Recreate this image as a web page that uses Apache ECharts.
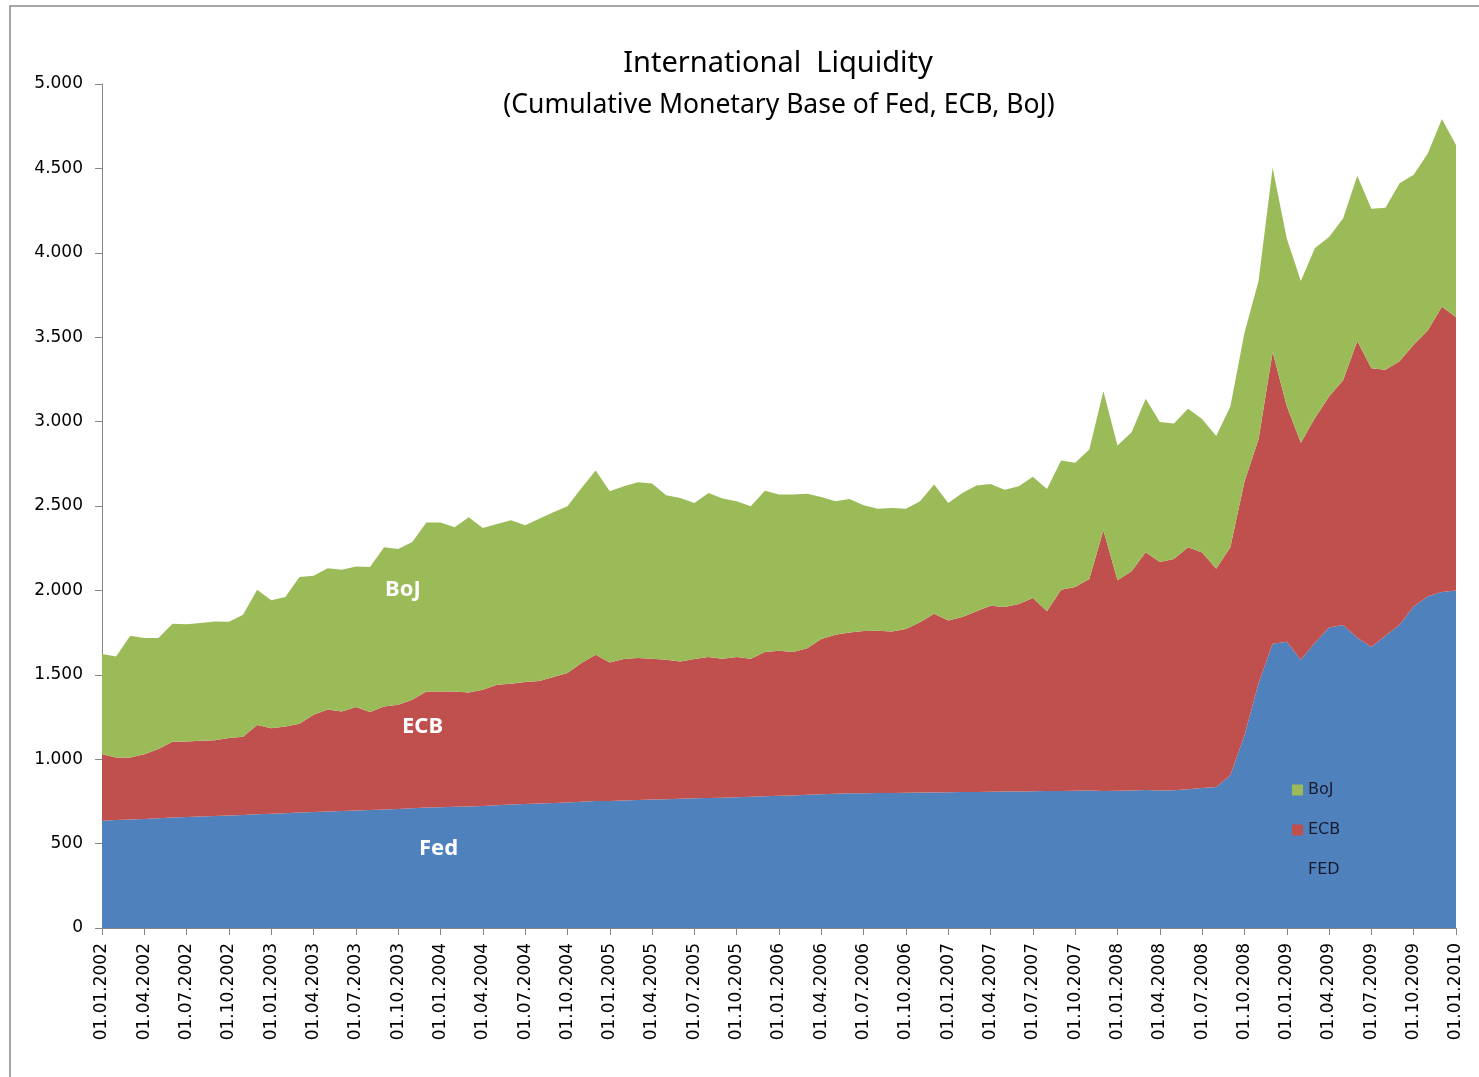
<!DOCTYPE html>
<html>
<head>
<meta charset="utf-8">
<title>International Liquidity</title>
<script src="https://cdn.jsdelivr.net/npm/echarts@6/dist/echarts.min.js"></script>
<style>
  html, body { margin: 0; padding: 0; background: #fff; }
  #chart { width: 1479px; height: 1077px; }
</style>
</head>
<body>
<div id="chart"></div>
<script>
// monthly points 01.01.2002 .. 01.01.2010 (97 months)
var firstYear = 2002;
var monthCount = 97;

var fed = [
  636, 640, 643, 646, 650, 655, 658, 660, 663, 666, 670, 674,
  677, 680, 684, 687, 690, 693, 696, 699, 702, 705, 709, 714,
  716, 718, 720, 723, 727, 731, 734, 737, 740, 744, 748, 752,
  753, 756, 759, 761, 763, 766, 768, 770, 772, 775, 777, 780,
  783, 785, 789, 793, 796, 798, 799, 800, 800, 801, 802, 803,
  804, 805, 806, 807, 808, 809, 810, 811, 812, 813, 814, 812,
  813, 815, 818, 814, 816, 822, 830, 836, 905, 1140, 1450, 1684,
  1696, 1589, 1690, 1780, 1795, 1720, 1665, 1732, 1797, 1905, 1965, 1990,
  2000
];

var ecb = [
  394, 370, 367, 384, 410, 448, 447, 449, 450, 459, 463, 528,
  507, 514, 526, 576, 605, 590, 613, 580, 610, 617, 643, 687,
  685, 683, 675, 688, 714, 716, 723, 726, 747, 766, 822, 867,
  820, 837, 840, 834, 826, 813, 825, 835, 823, 830, 818, 855,
  860, 850, 869, 919, 941, 953, 960, 961, 957, 970, 1009, 1059,
  1018, 1037, 1070, 1102, 1093, 1110, 1145, 1065, 1192, 1207, 1254, 1544,
  1247, 1298, 1408, 1354, 1370, 1433, 1394, 1292, 1350, 1504, 1446, 1729,
  1396, 1285, 1332, 1368, 1450, 1758, 1651, 1575, 1561, 1550, 1575, 1690,
  1618
];

var boj = [
  593, 599, 722, 688, 658, 700, 694, 698, 703, 690, 723, 802,
  757, 767, 870, 824, 836, 840, 832, 860, 943, 923, 935, 1001,
  1001, 973, 1038, 959, 953, 968, 929, 962, 976, 988, 1037, 1091,
  1014, 1024, 1042, 1038, 975, 969, 925, 972, 949, 923, 903, 956,
  925, 933, 914, 842, 791, 791, 746, 722, 731, 712, 717, 765,
  696, 735, 745, 722, 696, 698, 718, 725, 765, 736, 767, 824,
  798, 824, 909, 829, 803, 821, 791, 787, 835, 881, 937, 1091,
  993, 959, 1007, 945, 960, 979, 945, 960, 1054, 1007, 1049, 1113,
  1020
];

var yTicks = [0, 500, 1000, 1500, 2000, 2500, 3000, 3500, 4000, 4500, 5000];

var dates = [];
for (var k = 0; k < monthCount; k++) {
  var m = k % 12 + 1;
  dates.push('01.' + (m < 10 ? '0' + m : m) + '.' + (firstYear + Math.floor(k / 12)));
}

function thousands(v) {
  var s = String(v);
  return s.length > 3 ? s.slice(0, s.length - 3) + '.' + s.slice(s.length - 3) : s;
}

var axisGray = '#868686';
var myChart = echarts.init(document.getElementById('chart'));
var option = {
  animation: false,
  backgroundColor: '#fff',
  title: [
    {
      text: 'International  Liquidity',
      left: 778, top: 49, textAlign: 'center', padding: 0,
      textStyle: { fontFamily: 'Noto Sans', fontSize: 29, fontWeight: 'normal', color: '#000' }
    },
    {
      text: '(Cumulative Monetary Base of Fed, ECB, BoJ)',
      left: 779, top: 92, textAlign: 'center', padding: 0,
      textStyle: { fontFamily: 'Noto Sans', fontSize: 26.5, fontWeight: 'normal', color: '#000' }
    }
  ],
  legend: {
    data: ['BoJ', 'ECB', 'FED'],
    orient: 'vertical',
    left: 1292, top: 782,
    itemWidth: 11, itemHeight: 11, itemGap: 24,
    padding: 0,
    icon: 'rect',
    textStyle: { fontFamily: 'DejaVu Sans', fontSize: 16, color: '#1b1b2f' }
  },
  grid: { left: 102, right: 23, top: 84, bottom: 149, containLabel: false },
  xAxis: {
    type: 'category',
    data: dates,
    boundaryGap: false,
    axisLine: { lineStyle: { color: axisGray, width: 1 } },
    axisTick: { interval: 2, length: 7, lineStyle: { color: axisGray } },
    axisLabel: {
      interval: 2, rotate: 90, margin: 15,
      fontFamily: 'DejaVu Sans', fontSize: 17, color: '#000'
    },
    splitLine: { show: false }
  },
  yAxis: {
    type: 'value',
    min: yTicks[0], max: yTicks[yTicks.length - 1], interval: 500,
    axisLine: { show: true, lineStyle: { color: axisGray, width: 1 } },
    axisTick: { show: true, length: 7, lineStyle: { color: axisGray } },
    axisLabel: {
      margin: 19, fontFamily: 'DejaVu Sans', fontSize: 17, color: '#000',
      formatter: function (v) { return thousands(v); }
    },
    splitLine: { show: false }
  },
  series: [
    {
      name: 'FED', type: 'line', stack: 'total', data: fed,
      symbol: 'none', lineStyle: { width: 0 },
      itemStyle: { color: '#4F81BD' },
      areaStyle: { color: '#4F81BD', opacity: 1 }
    },
    {
      name: 'ECB', type: 'line', stack: 'total', data: ecb,
      symbol: 'none', lineStyle: { width: 0 },
      itemStyle: { color: '#C0504D' },
      areaStyle: { color: '#C0504D', opacity: 1 }
    },
    {
      name: 'BoJ', type: 'line', stack: 'total', data: boj,
      symbol: 'none', lineStyle: { width: 0 },
      itemStyle: { color: '#9BBB59' },
      areaStyle: { color: '#9BBB59', opacity: 1 }
    }
  ],
  graphic: [
    {
      type: 'rect', silent: true, z: 100,
      shape: { x: 10, y: 6, width: 1520, height: 1120 },
      style: { fill: 'none', stroke: '#8a8a8a', lineWidth: 1.5 }
    },
    {
      type: 'text', left: 385, top: 579, silent: true, z: 100,
      style: { text: 'BoJ', fill: '#fff', font: 'bold 22px "Noto Sans"' }
    },
    {
      type: 'text', left: 402, top: 716, silent: true, z: 100,
      style: { text: 'ECB', fill: '#fff', font: 'bold 22px "Noto Sans"' }
    },
    {
      type: 'text', left: 419, top: 838, silent: true, z: 100,
      style: { text: 'Fed', fill: '#fff', font: 'bold 22px "Noto Sans"' }
    }
  ]
};
myChart.setOption(option);
</script>
</body>
</html>
